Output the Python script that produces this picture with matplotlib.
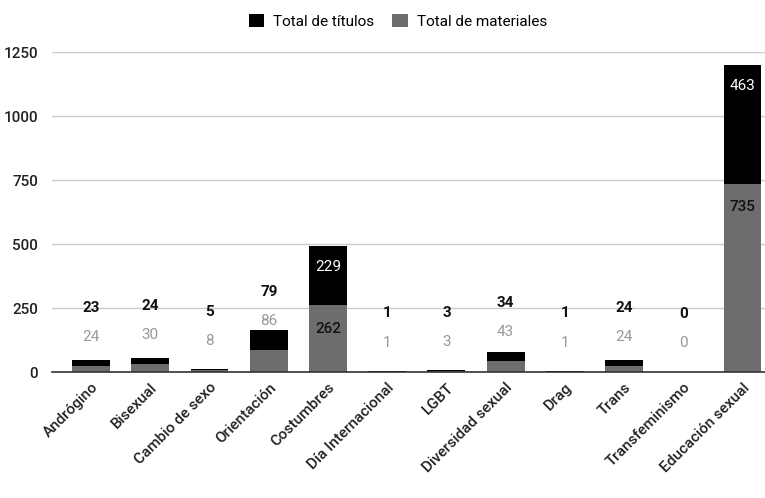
import matplotlib.pyplot as plt
from matplotlib.patches import Patch

plt.rcParams['font.family'] = ['Roboto', 'DejaVu Sans']

categorias = ['Andrógino', 'Bisexual', 'Cambio de sexo', 'Orientación', 'Costumbres',
              'Día Internacional', 'LGBT', 'Diversidad sexual', 'Drag', 'Trans',
              'Transfeminismo', 'Educación sexual']
materiales = [24, 30, 8, 86, 262, 1, 3, 43, 1, 24, 0, 735]
titulos = [23, 24, 5, 79, 229, 1, 3, 34, 1, 24, 0, 463]
yticks = [0, 250, 500, 750, 1000, 1250]

negro = '#000000'
gris = '#6d6d6d'

fig = plt.figure(figsize=(7.65, 4.98), dpi=100)
ax = fig.add_axes([52 / 765, 126 / 498, 713 / 765, 320 / 498])

x = list(range(len(categorias)))
ax.bar(x, materiales, width=0.64, color=gris, zorder=3)
ax.bar(x, titulos, width=0.64, bottom=materiales, color=negro, zorder=3)

for i in x:
    m = materiales[i]
    t = titulos[i]
    if m > 150:
        # etiquetas dentro de la barra
        ax.annotate(str(m), (i, m), xytext=(0, -17), textcoords='offset points',
                    ha='center', va='center', fontsize=11, fontweight='medium',
                    color='#111111', zorder=4)
        ax.annotate(str(t), (i, m + t), xytext=(0, -15), textcoords='offset points',
                    ha='center', va='center', fontsize=11, color='white', zorder=4)
    else:
        ax.annotate(str(m), (i, m), xytext=(0, 21), textcoords='offset points',
                    ha='center', va='center', fontsize=11, color='#999999', zorder=4)
        ax.annotate(str(t), (i, m), xytext=(0, 42), textcoords='offset points',
                    ha='center', va='center', fontsize=11, fontweight='bold',
                    color='#111111', zorder=4)

ax.set_xlim(-0.66, 11.38)
ax.set_ylim(0, 1250)
ax.set_yticks(yticks)
ax.set_yticklabels([str(v) for v in yticks], fontsize=11, fontweight='medium',
                   color='#222222')
ax.set_xticks(x)
ax.set_xticklabels(categorias, rotation=45, ha='right', rotation_mode='anchor',
                   fontsize=11, fontweight='medium', color='#222222')
ax.tick_params(axis='both', length=0)
ax.tick_params(axis='x', pad=6)
ax.tick_params(axis='y', pad=10)
ax.grid(axis='y', color='#cccccc', linewidth=1, zorder=0)
ax.set_axisbelow(True)
for s in ['top', 'right', 'left']:
    ax.spines[s].set_visible(False)
ax.spines['bottom'].set_color('#333333')
ax.spines['bottom'].set_linewidth(1.2)
ax.spines['bottom'].set_zorder(5)

handles = [Patch(facecolor=negro, label='Total de títulos'),
           Patch(facecolor=gris, label='Total de materiales')]
fig.legend(handles=handles, loc='upper center', bbox_to_anchor=(0.52, 1.0), ncol=2,
           frameon=False, fontsize=11, handlelength=1.0, handleheight=1.0,
           columnspacing=1.2, handletextpad=0.6)

fig.savefig('out.png', dpi=100)
